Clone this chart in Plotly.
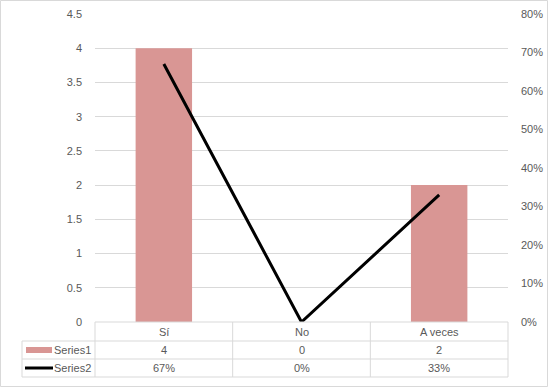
import plotly.graph_objects as go

categories = ["Sí", "No", "A veces"]
series1 = [4, 0, 2]
series2 = [0.67, 0.0, 0.33]
series_names = ["Series1", "Series2"]
left_ticks = [0, 0.5, 1, 1.5, 2, 2.5, 3, 3.5, 4, 4.5]
right_ticks = [0, 0.1, 0.2, 0.3, 0.4, 0.5, 0.6, 0.7, 0.8]

W, H = 548, 387
PX0, PX1 = 95, 508      # plot area x
PY0, PY1 = 14, 322      # plot area y (top, bottom)
ROWS = [322, 341, 359, 377]
LEG_X = 22

def fx(x):
    return x / W

def fy(y):
    return 1 - y / H

BAR = "#D99694"
TXT = "#595959"
GRID = "#D9D9D9"
FONT = "Liberation Sans"

fig = go.Figure()
fig.add_trace(go.Bar(x=categories, y=series1, name=series_names[0], marker_color=BAR,
                     marker_line_width=0, width=0.41, yaxis="y"))
fig.add_trace(go.Scatter(x=categories, y=series2, name=series_names[1], mode="lines",
                         line=dict(color="black", width=3), yaxis="y2"))

shapes = []
ann = []
# outer border
shapes.append(dict(type="rect", xref="paper", yref="paper", x0=fx(0.5), x1=fx(W - 0.5),
                   y0=fy(H - 0.5), y1=fy(0.5), line=dict(color=GRID, width=1)))
ncat = len(categories)
colw = (PX1 - PX0) / ncat
# horizontal table lines
for i, yy in enumerate(ROWS):
    x0 = PX0 if i == 0 else LEG_X
    shapes.append(dict(type="line", xref="paper", yref="paper", x0=fx(x0), x1=fx(PX1),
                       y0=fy(yy), y1=fy(yy), line=dict(color=GRID, width=1)))
# vertical table lines
for j in range(ncat + 1):
    xx = PX0 + j * colw
    shapes.append(dict(type="line", xref="paper", yref="paper", x0=fx(xx), x1=fx(xx),
                       y0=fy(ROWS[0]), y1=fy(ROWS[-1]), line=dict(color=GRID, width=1)))
shapes.append(dict(type="line", xref="paper", yref="paper", x0=fx(LEG_X), x1=fx(LEG_X),
                   y0=fy(ROWS[1]), y1=fy(ROWS[-1]), line=dict(color=GRID, width=1)))

fnt = dict(family=FONT, size=11, color=TXT)

def add_text(x, y, text, xanchor="center"):
    ann.append(dict(x=fx(x), y=fy(y), xref="paper", yref="paper", text=text,
                    showarrow=False, xanchor=xanchor, yanchor="middle", font=fnt))

for j, c in enumerate(categories):
    cx = PX0 + (j + 0.5) * colw
    add_text(cx, (ROWS[0] + ROWS[1]) / 2, c)
    add_text(cx, (ROWS[1] + ROWS[2]) / 2, str(series1[j]))
    add_text(cx, (ROWS[2] + ROWS[3]) / 2, f"{round(series2[j]*100)}%")
# legend keys
shapes.append(dict(type="rect", xref="paper", yref="paper", x0=fx(26), x1=fx(52),
                   y0=fy(353), y1=fy(347), fillcolor=BAR, line=dict(width=0)))
shapes.append(dict(type="line", xref="paper", yref="paper", x0=fx(25), x1=fx(53),
                   y0=fy(368), y1=fy(368), line=dict(color="black", width=3)))
for k, nm in enumerate(series_names):
    add_text(52, (ROWS[k + 1] + ROWS[k + 2]) / 2, nm, xanchor="left")

fig.update_layout(
    template="none",
    width=W, height=H, margin=dict(l=0, r=0, t=0, b=0, pad=0), autosize=False,
    paper_bgcolor="white", plot_bgcolor="white", showlegend=False,
    font=fnt, bargap=0.59,
    xaxis=dict(domain=[fx(PX0), fx(PX1)], showticklabels=False, showgrid=False,
               zeroline=False, showline=False, fixedrange=True, automargin=False),
    yaxis=dict(domain=[fy(PY1), fy(PY0)], range=[0, 4.5], tickvals=left_ticks,
               ticktext=[f"{v:g}" for v in left_ticks], showgrid=True, gridcolor=GRID,
               gridwidth=1, zeroline=False, showline=False, ticks="", ticklabelstandoff=12,
               tickfont=fnt, color=TXT, automargin=False),
    yaxis2=dict(overlaying="y", side="right", range=[0, 0.8], tickvals=right_ticks,
                ticktext=[f"{round(v*100)}%" for v in right_ticks], showgrid=False,
                zeroline=False, showline=False, ticks="", ticklabelstandoff=12, tickfont=fnt,
                color=TXT, automargin=False),
    shapes=shapes, annotations=ann,
)
fig.write_html("out.html")
